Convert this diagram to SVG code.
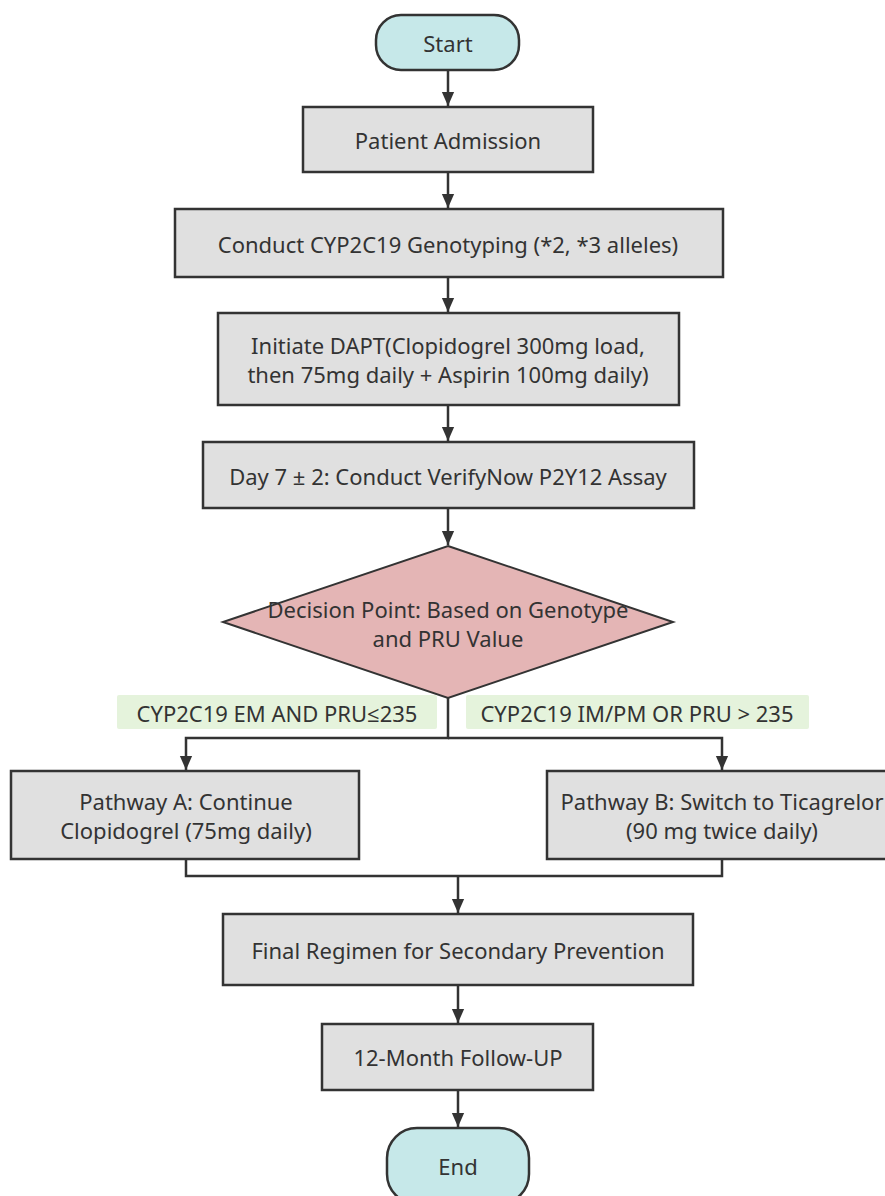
<svg xmlns="http://www.w3.org/2000/svg" width="885" height="1196" viewBox="0 0 885 1196">
<style>
.box{fill:#e0e0e0;stroke:#333;stroke-width:2.5}
.term{fill:#c6e8e9;stroke:#333;stroke-width:2.5}
.dec{fill:#e4b5b5;stroke:#333;stroke-width:2}
.lbl{fill:#e5f3dc;stroke:none}
.t{font-family:"Noto Sans","Open Sans","DejaVu Sans",sans-serif;font-size:22px;fill:#333;text-anchor:middle;dominant-baseline:central}
.c{fill:none;stroke:#333;stroke-width:2.5}
</style>
<defs>
<marker id="ah" markerWidth="14" markerHeight="16" refX="16" refY="7" orient="auto" markerUnits="userSpaceOnUse" viewBox="0 0 16 14">
<path d="M0,0 L16,7 L0,14 Z" fill="#333"/>
</marker>
</defs>
<rect width="885" height="1196" fill="#fff"/>
<g id="connectors">
<path class="c" d="M448,70 V106" marker-end="url(#ah)"/>
<path class="c" d="M448,173 V208" marker-end="url(#ah)"/>
<path class="c" d="M448,278 V312" marker-end="url(#ah)"/>
<path class="c" d="M448,406 V441" marker-end="url(#ah)"/>
<path class="c" d="M448,509 V545" marker-end="url(#ah)"/>
<path class="c" d="M448,698 V738 H186 V770" marker-end="url(#ah)"/>
<path class="c" d="M448,738 H722 V770" marker-end="url(#ah)"/>
<path class="c" d="M186,860 V876 H722 V860"/>
<path class="c" d="M458,876 V913" marker-end="url(#ah)"/>
<path class="c" d="M458,986 V1023" marker-end="url(#ah)"/>
<path class="c" d="M458,1091 V1127" marker-end="url(#ah)"/>
</g>
<g id="start"><rect class="term" x="376" y="15" width="143" height="55" rx="25"/><text class="t" x="448" y="43">Start</text></g>
<g id="admission"><rect class="box" x="303" y="107" width="290" height="65"/><text class="t" x="448" y="140">Patient Admission</text></g>
<g id="genotyping"><rect class="box" x="175" y="209" width="548" height="68"/><text class="t" x="448" y="244">Conduct CYP2C19 Genotyping (*2, *3 alleles)</text></g>
<g id="dapt"><rect class="box" x="218" y="313" width="461" height="92"/><text class="t" x="448" y="345">Initiate DAPT(Clopidogrel 300mg load,</text><text class="t" x="448" y="374">then 75mg daily + Aspirin 100mg daily)</text></g>
<g id="assay"><rect class="box" x="203" y="442" width="491" height="66"/><text class="t" x="448" y="476">Day 7 ± 2: Conduct VerifyNow P2Y12 Assay</text></g>
<g id="decision"><polygon class="dec" points="448,546 673,622 448,698 223,622"/><text class="t" x="448" y="609">Decision Point: Based on Genotype</text><text class="t" x="448" y="638">and PRU Value</text></g>
<g id="label-a"><rect class="lbl" x="117" y="695" width="320" height="34" rx="2"/><text class="t" x="277" y="713">CYP2C19 EM AND PRU≤235</text></g>
<g id="label-b"><rect class="lbl" x="466" y="695" width="343" height="34" rx="2"/><text class="t" x="637" y="713">CYP2C19 IM/PM OR PRU &gt; 235</text></g>
<g id="pathway-a"><rect class="box" x="11" y="771" width="348" height="88"/><text class="t" x="186" y="801">Pathway A: Continue</text><text class="t" x="186" y="830">Clopidogrel (75mg daily)</text></g>
<g id="pathway-b"><rect class="box" x="547" y="771" width="350" height="88"/><text class="t" x="722" y="801">Pathway B: Switch to Ticagrelor</text><text class="t" x="722" y="830">(90 mg twice daily)</text></g>
<g id="final"><rect class="box" x="223" y="914" width="470" height="71"/><text class="t" x="458" y="950">Final Regimen for Secondary Prevention</text></g>
<g id="followup"><rect class="box" x="322" y="1024" width="271" height="66"/><text class="t" x="458" y="1057">12-Month Follow-UP</text></g>
<g id="end"><rect class="term" x="387" y="1128" width="142" height="76" rx="30"/><text class="t" x="458" y="1166">End</text></g>
</svg>
